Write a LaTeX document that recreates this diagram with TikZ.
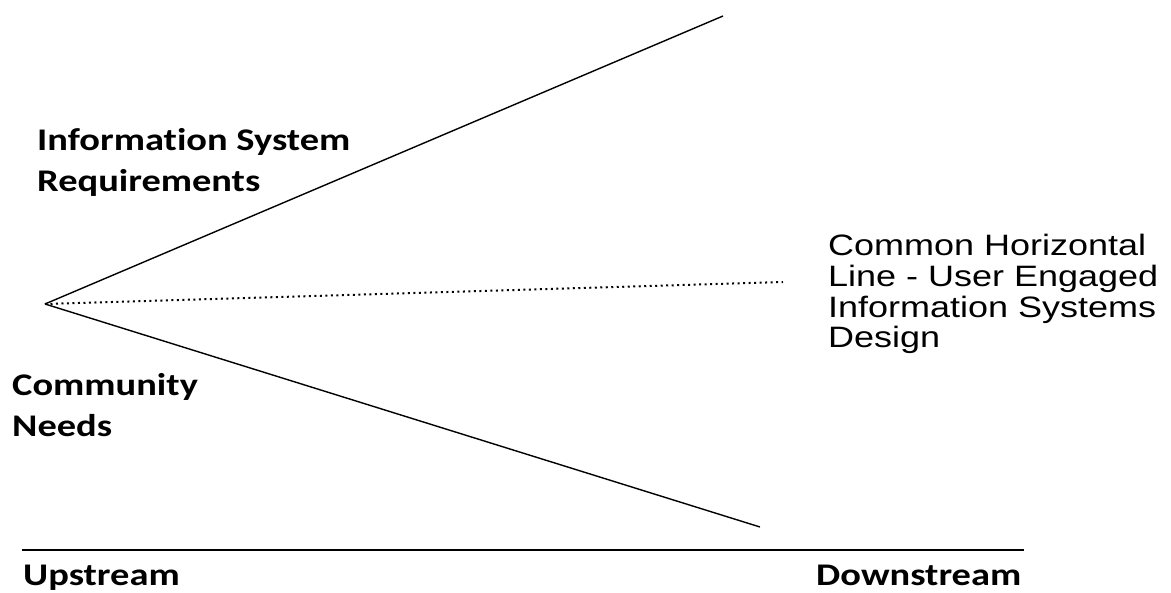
\documentclass[tikz,border=0pt]{standalone}
\usepackage{fontspec}
\setmainfont[FakeStretch=1.22]{Liberation Sans}
\newfontfamily\lblfont[FakeStretch=1.22,Ligatures=NoCommon]{Carlito}
\usetikzlibrary{positioning}
\tikzset{lbl/.style={font=\lblfont\bfseries\fontsize{31.5}{41.5}\selectfont,align=left,inner sep=0pt,anchor=base west},
  note/.style={font=\fontsize{29.5}{30.7}\selectfont,align=left,inner sep=0pt,anchor=base west},
  leg/.style={line width=1.4pt}}
\begin{document}
\begin{tikzpicture}[x=1pt,y=-1pt]
\useasboundingbox (0,0) rectangle (1171,593);
% the fan
\coordinate (apex) at (45,304);\coordinate (top) at (723,16);\coordinate (bot) at (760,527);\coordinate (mid) at (783,282);
\draw[leg] (apex)--(top);\draw[leg] (apex)--(bot);\draw[line width=2pt,dash pattern=on 2pt off 3.5pt] (apex)--(mid);
% the stream axis
\coordinate (ul) at (22,550);\coordinate (ur) at (1024,550);\draw[leg] (ul)--(ur);
\node[lbl] (isr) at (37,192) {Information System\\Requirements};
\node[lbl] (needs) at (12,437) {Community\\Needs};
\node[lbl] (up) at (23,586) {Upstream};
\node[lbl] (down) at (816,586) {Downstream};
\node[note] (common) at (828,348) {Common Horizontal\\Line - User Engaged\\Information Systems\\Design};
\end{tikzpicture}
\end{document}
